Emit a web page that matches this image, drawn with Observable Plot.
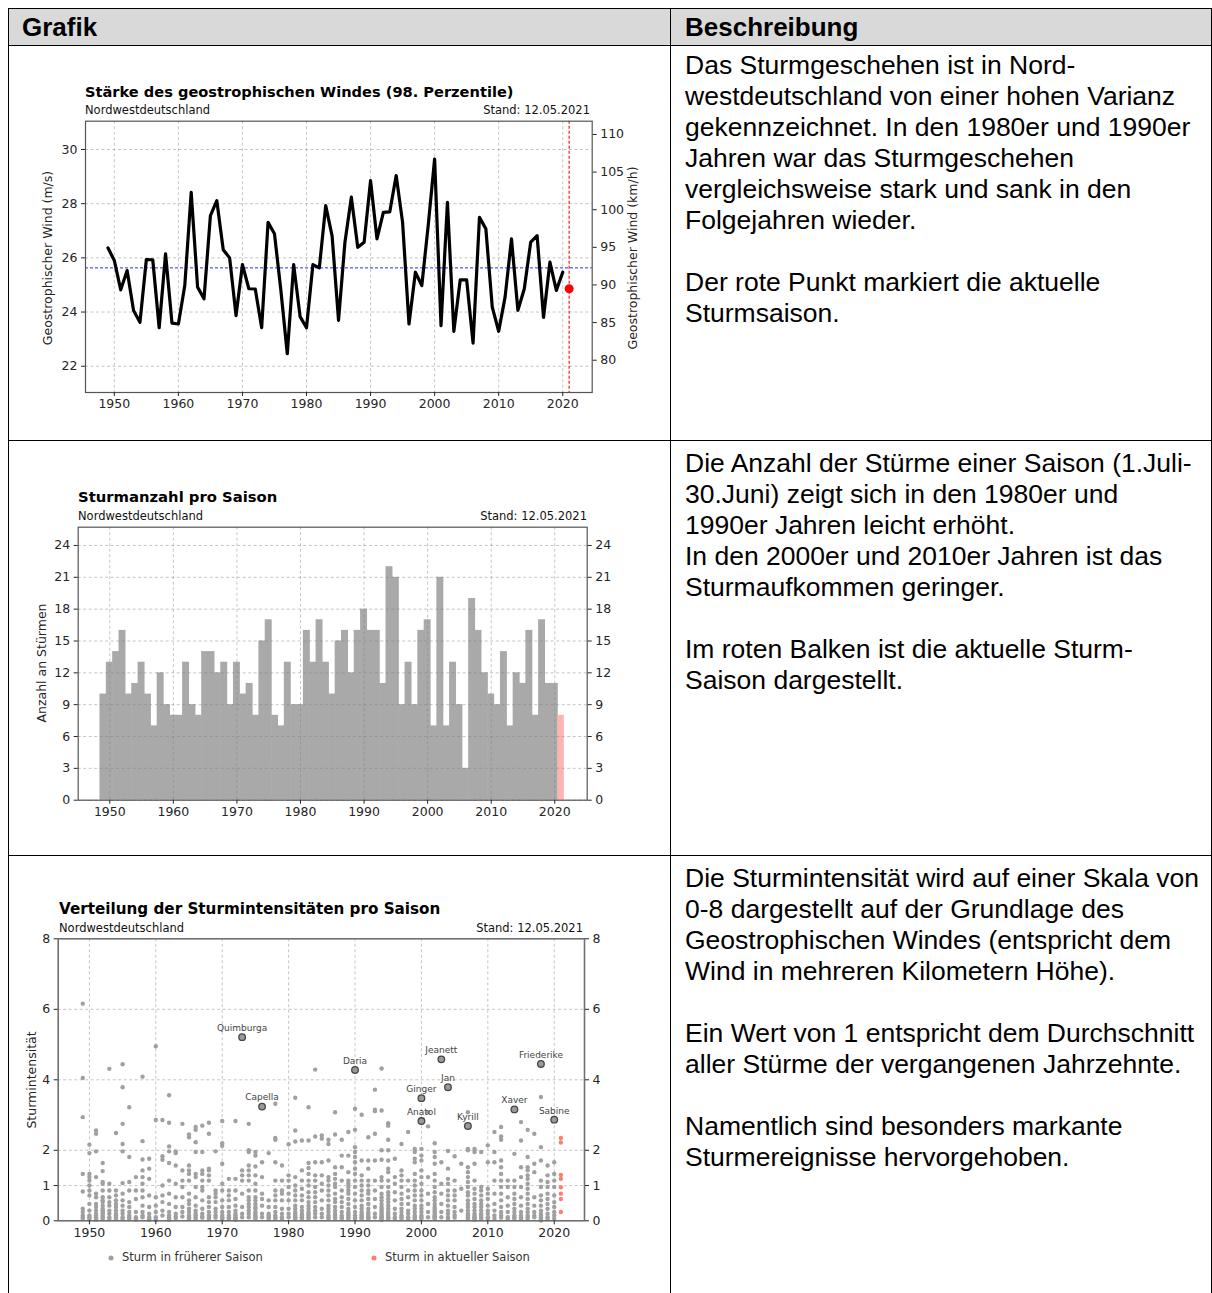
<!DOCTYPE html>
<html><head><meta charset="utf-8">
<script src="https://cdn.jsdelivr.net/npm/d3@7"></script>
<script src="https://cdn.jsdelivr.net/npm/@observablehq/plot@0.6"></script>
<style>
body{margin:0;background:#fff;}
#page{position:relative;width:1212px;height:1293px;overflow:hidden;background:#fff;}
.ln{position:absolute;background:#000;}
.hdr{position:absolute;font-family:"Liberation Sans",Arial,sans-serif;font-weight:bold;font-size:26px;line-height:1;transform:translateY(-50%);}
.desc{position:absolute;left:685px;font-family:"Liberation Sans",Arial,sans-serif;font-size:26.5px;line-height:31px;white-space:nowrap;color:#000;}
.t{position:absolute;font-family:"DejaVu Sans",sans-serif;line-height:1;white-space:nowrap;color:#111;transform:translateY(-50%);}
.title{font-weight:bold;font-size:15px;color:#000;}
.sub{font-size:11.5px;}
.yl{position:absolute;font-family:"DejaVu Sans",sans-serif;font-size:12.5px;line-height:1;white-space:nowrap;color:#222;transform:translate(-50%,-50%) rotate(-90deg);}
.chart{position:absolute;}
.lg{position:absolute;font-family:"DejaVu Sans",sans-serif;font-size:11.5px;line-height:1;white-space:nowrap;color:#333;transform:translateY(-50%);}
.lgdot{position:absolute;width:5px;height:5px;border-radius:50%;transform:translate(-50%,-50%);}
</style></head>
<body><div id="page">
<div class="ln" style="left:8px;top:8px;width:1204px;height:37px;background:#d9d9d9"></div>
<div class="ln" style="left:8px;top:8px;width:1204px;height:1px"></div>
<div class="ln" style="left:8px;top:45px;width:1204px;height:1px"></div>
<div class="ln" style="left:8px;top:440px;width:1204px;height:1px"></div>
<div class="ln" style="left:8px;top:855px;width:1204px;height:1px"></div>
<div class="ln" style="left:8px;top:8px;width:1px;height:1285px"></div>
<div class="ln" style="left:670px;top:8px;width:1px;height:1285px"></div>
<div class="ln" style="left:1211px;top:8px;width:1px;height:1285px"></div>
<div class="hdr" style="left:22px;top:27px">Grafik</div>
<div class="hdr" style="left:685px;top:27px">Beschreibung</div>

<div class="desc" style="top:49.5px">Das Sturmgeschehen ist in Nord-<br>westdeutschland von einer hohen Varianz<br>gekennzeichnet. In den 1980er und 1990er<br>Jahren war das Sturmgeschehen<br>vergleichsweise stark und sank in den<br>Folgejahren wieder.<br><br>Der rote Punkt markiert die aktuelle<br>Sturmsaison.</div>
<div class="desc" style="top:447.5px">Die Anzahl der Stürme einer Saison (1.Juli-<br>30.Juni) zeigt sich in den 1980er und<br>1990er Jahren leicht erhöht.<br>In den 2000er und 2010er Jahren ist das<br>Sturmaufkommen geringer.<br><br>Im roten Balken ist die aktuelle Sturm-<br>Saison dargestellt.</div>
<div class="desc" style="top:862.5px">Die Sturmintensität wird auf einer Skala von<br>0-8 dargestellt auf der Grundlage des<br>Geostrophischen Windes (entspricht dem<br>Wind in mehreren Kilometern Höhe).<br><br>Ein Wert von 1 entspricht dem Durchschnitt<br>aller Stürme der vergangenen Jahrzehnte.<br><br>Namentlich sind besonders markante<br>Sturmereignisse hervorgehoben.</div>

<div class="t title" style="left:85px;top:92px;font-size:14.6px">Stärke des geostrophischen Windes (98. Perzentile)</div>
<div class="t sub" style="left:85px;top:111px">Nordwestdeutschland</div>
<div class="t sub" style="right:622px;top:111px">Stand: 12.05.2021</div>
<div class="yl" style="left:48px;top:258px">Geostrophischer Wind (m/s)</div>
<div class="yl" style="left:633px;top:258px">Geostrophischer Wind (km/h)</div>
<div class="chart" id="c1" style="left:20px;top:115px;width:640px"></div>

<div class="t title" style="left:78px;top:497px;font-size:14.8px">Sturmanzahl pro Saison</div>
<div class="t sub" style="left:78px;top:517px">Nordwestdeutschland</div>
<div class="t sub" style="right:625px;top:517px">Stand: 12.05.2021</div>
<div class="yl" style="left:42px;top:663px">Anzahl an Stürmen</div>
<div class="chart" id="c2" style="left:20px;top:520px;width:620px"></div>

<div class="t title" style="left:59px;top:910px;font-size:15.2px">Verteilung der Sturmintensitäten pro Saison</div>
<div class="t sub" style="left:59px;top:929px">Nordwestdeutschland</div>
<div class="t sub" style="right:629px;top:929px">Stand: 12.05.2021</div>
<div class="yl" style="left:32px;top:1080px">Sturmintensität</div>
<div class="chart" id="c3" style="left:10px;top:932px;width:630px"></div>
<div class="lgdot" style="left:111px;top:1258px;background:#a0a0a0"></div>
<div class="lg" style="left:122px;top:1258px">Sturm in früherer Saison</div>
<div class="lgdot" style="left:374px;top:1258px;background:#fa8072"></div>
<div class="lg" style="left:385px;top:1258px">Sturm in aktueller Saison</div>
</div>
<script>
// ---------- data ----------
const seasonYears = [1949,1950,1951,1952,1953,1954,1955,1956,1957,1958,1959,1960,1961,1962,1963,1964,1965,1966,1967,1968,1969,1970,1971,1972,1973,1974,1975,1976,1977,1978,1979,1980,1981,1982,1983,1984,1985,1986,1987,1988,1989,1990,1991,1992,1993,1994,1995,1996,1997,1998,1999,2000,2001,2002,2003,2004,2005,2006,2007,2008,2009,2010,2011,2012,2013,2014,2015,2016,2017,2018,2019,2020];
const windMs = [26.37,25.9,24.82,25.53,24.06,23.62,25.94,25.93,23.42,26.15,23.59,23.56,24.98,28.42,24.92,24.49,27.56,28.11,26.3,26.0,23.87,25.75,24.86,24.85,23.42,27.31,26.89,24.8,22.46,25.75,23.83,23.42,25.75,25.63,27.93,26.8,23.69,26.58,28.24,26.39,26.58,28.85,26.7,27.68,27.7,29.04,27.31,23.56,25.47,24.98,27.2,29.65,23.5,28.05,23.29,25.19,25.19,22.85,27.5,27.07,24.18,23.29,24.55,26.7,24.06,24.86,26.58,26.82,23.8,25.84,24.8,25.47];
const currentSeason = 2021;
const currentWindMs = 24.86;
const windMeanMs = 25.63;
const windTicksMs = [22,24,26,28,30];
const windTicksKmh = [80,85,90,95,100,105,110];
const decadeTicks = [1950,1960,1970,1980,1990,2000,2010,2020];

const stormCounts = [10,13,14,16,10,11,13,10,7,12,9,8,8,13,9,8,14,14,12,13,9,13,10,11,8,15,17,8,7,13,9,9,16,13,17,13,10,15,16,12,16,18,16,16,11,22,21,9,13,9,16,17,7,21,7,13,9,3,19,16,12,10,9,14,7,12,11,16,8,17,11,11];
const currentCount = 8;
const countTicks = [0,3,6,9,12,15,18,21,24];

// storm intensities per season: [season, values...]
const stormIntensity = [
[1949,6.16,4.05,2.94,1.33,0.83,0.34,0.25,0.15,0.10,0.05],
[1950,2.16,1.92,1.33,1.24,1.14,1.00,0.86,0.72,0.48,0.29,0.15,0.10,0.05],
[1951,2.56,2.47,1.97,1.24,0.77,0.67,0.48,0.39,0.29,0.20,0.15,0.10,0.06,0.03],
[1952,1.64,1.41,1.10,1.05,0.86,0.67,0.58,0.53,0.43,0.34,0.29,0.25,0.20,0.15,0.10,0.05],
[1953,4.31,1.05,0.86,0.67,0.53,0.43,0.29,0.20,0.10,0.05],
[1954,2.49,0.86,0.72,0.58,0.48,0.39,0.29,0.20,0.15,0.10,0.05],
[1955,4.44,3.79,2.75,2.18,1.97,1.07,0.77,0.58,0.43,0.29,0.20,0.10,0.05],
[1956,3.22,1.81,1.10,0.86,0.53,0.39,0.25,0.15,0.10,0.05],
[1957,1.24,0.86,0.62,0.25,0.10,0.06,0.03],
[1958,4.09,2.26,1.74,1.43,1.24,1.05,0.86,0.67,0.43,0.25,0.15,0.10],
[1959,1.76,1.48,1.19,0.72,0.39,0.20,0.10,0.06,0.03],
[1960,4.95,2.86,0.67,0.43,0.25,0.10,0.05,0.02],
[1961,2.86,1.83,1.73,1.00,0.72,0.53,0.29,0.15],
[1962,3.56,2.78,2.11,1.97,1.64,1.14,0.77,0.48,0.25,0.15,0.10,0.06,0.03],
[1963,1.97,1.92,1.57,1.05,0.67,0.39,0.20,0.12,0.08],
[1964,2.75,1.43,1.14,0.96,0.67,0.39,0.25,0.12],
[1965,2.45,2.37,1.57,1.43,1.33,1.14,0.77,0.58,0.48,0.34,0.25,0.15,0.10,0.06],
[1966,2.66,2.58,2.23,1.95,1.33,1.24,0.96,0.67,0.43,0.29,0.20,0.15,0.10,0.06],
[1967,2.70,1.95,1.43,1.33,1.14,0.96,0.86,0.58,0.34,0.20,0.12,0.09],
[1968,2.78,2.47,1.48,1.43,1.29,1.14,0.67,0.53,0.39,0.25,0.15,0.10,0.06],
[1969,1.97,0.86,0.77,0.67,0.53,0.34,0.25,0.15,0.09],
[1970,2.83,2.20,2.13,1.62,1.05,0.86,0.58,0.39,0.25,0.15,0.10,0.09,0.06],
[1971,1.19,0.86,0.72,0.58,0.39,0.25,0.15,0.10,0.09,0.06],
[1972,2.83,1.19,0.86,0.62,0.43,0.29,0.20,0.15,0.10,0.06,0.03],
[1973,1.43,1.29,1.14,0.77,0.39,0.20,0.10],
[1974,2.75,2.00,1.95,1.57,1.43,1.29,1.14,0.86,0.67,0.58,0.48,0.39,0.29,0.20,0.10],
[1975,1.95,1.85,1.54,1.29,1.05,0.86,0.67,0.58,0.48,0.39,0.34,0.25,0.20,0.15,0.10,0.09,0.06],
[1976,1.66,1.24,0.77,0.62,0.43,0.20,0.10],
[1977,1.92,0.58,0.39,0.20,0.15,0.10,0.06],
[1978,3.32,2.35,2.30,1.66,1.14,0.86,0.72,0.58,0.39,0.25,0.15,0.10,0.06],
[1979,1.57,1.14,0.86,0.77,0.58,0.34,0.20,0.10,0.06],
[1980,2.17,1.29,1.14,0.96,0.77,0.58,0.34,0.20,0.10],
[1981,3.49,2.56,2.25,1.24,1.00,0.86,0.72,0.58,0.43,0.34,0.25,0.20,0.15,0.10,0.09,0.06],
[1982,2.28,1.43,1.14,0.91,0.72,0.58,0.39,0.29,0.20,0.15,0.10,0.09,0.06],
[1983,3.22,2.28,1.64,1.50,1.33,1.14,1.00,0.81,0.67,0.53,0.43,0.34,0.25,0.20,0.15,0.10,0.06],
[1984,4.29,2.39,1.66,1.29,1.14,0.96,0.81,0.67,0.53,0.39,0.29,0.20,0.10],
[1985,2.42,2.33,1.66,1.29,1.05,0.86,0.58,0.34,0.20,0.10],
[1986,2.30,2.18,1.71,1.24,1.14,1.00,0.86,0.72,0.58,0.43,0.34,0.25,0.15,0.10,0.06],
[1987,3.08,2.45,1.52,1.33,1.19,1.05,0.96,0.77,0.62,0.53,0.39,0.29,0.20,0.15,0.10,0.06],
[1988,2.30,1.85,1.52,1.14,0.86,0.67,0.53,0.39,0.25,0.15,0.10,0.06],
[1989,2.52,1.85,1.38,1.14,1.05,0.96,0.86,0.77,0.62,0.48,0.34,0.25,0.20,0.15,0.10,0.06],
[1990,3.18,2.58,2.09,1.95,1.81,1.66,1.48,1.33,1.14,0.96,0.77,0.58,0.39,0.25,0.15,0.10,0.06],
[1991,3.01,1.71,1.29,1.14,1.00,0.86,0.72,0.58,0.43,0.34,0.25,0.20,0.15,0.10,0.09,0.06],
[1992,2.37,1.71,1.48,1.14,1.00,0.86,0.77,0.62,0.48,0.34,0.25,0.20,0.15,0.10,0.09,0.06],
[1993,3.72,3.15,3.11,2.47,1.71,1.14,0.86,0.62,0.39,0.20,0.10],
[1994,4.32,3.13,2.00,1.73,1.24,1.14,0.96,0.77,0.67,0.58,0.48,0.39,0.34,0.29,0.25,0.20,0.15,0.12,0.10,0.09,0.06,0.03],
[1995,2.77,2.70,2.30,2.00,1.71,1.48,1.38,1.14,0.96,0.81,0.72,0.62,0.53,0.43,0.34,0.25,0.20,0.15,0.10,0.08,0.05],
[1996,1.76,1.24,1.05,0.81,0.58,0.34,0.20,0.10,0.06],
[1997,2.18,1.43,1.29,1.14,0.96,0.77,0.62,0.48,0.34,0.25,0.15,0.10,0.06],
[1998,2.52,1.14,0.86,0.67,0.48,0.29,0.20,0.10,0.06],
[1999,2.04,1.95,1.76,1.66,1.33,1.14,1.00,0.86,0.72,0.58,0.43,0.34,0.25,0.15,0.10,0.06],
[2000,2.04,1.85,1.71,1.43,1.24,1.05,0.86,0.72,0.58,0.43,0.34,0.25,0.15,0.10,0.06],
[2001,3.08,2.68,1.24,0.77,0.48,0.25,0.10],
[2002,2.20,1.95,1.81,1.62,1.33,1.14,0.96,0.81,0.67,0.58,0.48,0.39,0.34,0.29,0.25,0.20,0.15,0.12,0.10,0.08,0.05],
[2003,1.66,1.05,0.77,0.48,0.25,0.10],
[2004,1.98,1.48,1.19,1.05,0.86,0.72,0.58,0.43,0.29,0.20,0.10,0.06],
[2005,1.83,1.14,0.86,0.72,0.58,0.39,0.25,0.15,0.09],
[2006,1.62,0.91,0.29],
[2007,3.08,2.04,2.00,1.52,1.38,1.24,1.10,0.96,0.81,0.72,0.58,0.48,0.39,0.29,0.20,0.15,0.10,0.06],
[2008,2.04,1.95,1.62,1.14,0.91,0.77,0.62,0.48,0.39,0.29,0.20,0.15,0.10,0.09,0.06,0.03],
[2009,1.95,0.96,0.86,0.72,0.58,0.48,0.39,0.29,0.20,0.15,0.10,0.06],
[2010,2.14,1.66,0.91,0.77,0.62,0.43,0.29,0.20,0.10,0.06],
[2011,2.52,1.95,1.66,1.14,0.77,0.48,0.29,0.15,0.06],
[2012,2.66,2.39,2.30,1.71,1.52,1.33,1.14,0.96,0.77,0.58,0.39,0.25,0.15,0.09],
[2013,1.14,0.96,0.67,0.43,0.25,0.10,0.06],
[2014,1.90,1.14,0.96,0.77,0.62,0.48,0.34,0.25,0.15,0.10,0.06],
[2015,2.80,2.28,1.52,1.24,0.96,0.67,0.43,0.25,0.15,0.10,0.06],
[2016,2.58,1.81,1.52,1.43,1.29,1.19,1.05,0.91,0.77,0.62,0.48,0.34,0.25,0.15,0.10,0.06],
[2017,2.47,1.62,1.38,0.67,0.43,0.25,0.15,0.10],
[2018,3.51,2.09,1.71,1.14,0.96,0.72,0.58,0.43,0.29,0.20,0.15,0.10,0.09,0.06,0.03,0.01],
[2019,1.57,1.29,1.10,0.96,0.77,0.62,0.48,0.34,0.20,0.10,0.06],
[2020,1.66,1.33,1.14,0.96,0.72,0.53,0.39,0.25,0.15,0.06]
];
const currentIntensities = [2.35,2.22,1.30,1.19,0.95,0.77,0.62,0.25];
const namedStorms = ["Quimburga","Capella","Daria","Ginger","Anatol","Jeanett","Jan","Kyrill","Xaver","Friederike","Sabine"];
const namedYears = [1973,1976,1990,2000,2000,2003,2004,2007,2014,2018,2020];
const namedValues = [5.21,3.24,4.28,3.48,2.83,4.58,3.79,2.69,3.16,4.45,2.87];
const intensityTicks = [0,1,2,4,6,8];

// ---------- shared styles ----------
const font = {fontFamily: "DejaVu Sans", fontSize: "12.5px", color: "#262626", background: "transparent", overflow: "visible"};
const gridStyle = {stroke: "#808080", strokeOpacity: 0.5, strokeDasharray: "3,2.5", strokeWidth: 0.9};
const axisCommon = {tickSize: 4, tickPadding: 4, label: null, fontSize: 12.5};

// ---------- chart 1 ----------
const windData = seasonYears.map((y, i) => ({year: y, ms: windMs[i]}));
const c1 = Plot.plot({
  width: 640, height: 320,
  marginLeft: 65, marginRight: 68.3, marginTop: 5.7, marginBottom: 43,
  style: font,
  x: {domain: [1945.5, 2024.6]},
  y: {domain: [21.03, 31.045]},
  marks: [
    Plot.gridX(decadeTicks, gridStyle),
    Plot.gridY(windTicksMs, gridStyle),
    Plot.ruleY([windMeanMs], {stroke: "#2b2bff", strokeDasharray: "3,2", strokeWidth: 1}),
    Plot.ruleX([currentSeason], {stroke: "red", strokeDasharray: "3,2", strokeWidth: 1.1}),
    Plot.line(windData, {x: "year", y: "ms", stroke: "black", strokeWidth: 3.2}),
    Plot.dot([{year: currentSeason, ms: currentWindMs}], {x: "year", y: "ms", r: 4.5, fill: "red", stroke: "none"}),
    Plot.frame({stroke: "#555", strokeWidth: 1.2}),
    Plot.axisX(decadeTicks, {...axisCommon, tickPadding: 3, tickFormat: d => String(d)}),
    Plot.axisY(windTicksMs, {...axisCommon, anchor: "left", tickFormat: d => String(d)}),
    Plot.axisY(windTicksKmh.map(k => k / 3.6), {...axisCommon, anchor: "right", tickFormat: d => String(Math.round(d * 3.6))})
  ]
});
document.getElementById("c1").append(c1);

// ---------- chart 2 ----------
const countData = seasonYears.map((y, i) => ({year: y, n: stormCounts[i]}));
const c2 = Plot.plot({
  width: 620, height: 310,
  marginLeft: 57.7, marginRight: 53.3, marginTop: 6.7, marginBottom: 30.3,
  style: font,
  x: {domain: [1945.03, 2025.1]},
  y: {domain: [0, 25.72]},
  marks: [
    Plot.rect(countData, {x1: d => d.year - 0.5, x2: d => d.year + 0.5, y1: 0, y2: "n", fill: "#a9a9a9", insetLeft: -0.3, insetRight: -0.3}),
    Plot.rect([{year: currentSeason, n: currentCount}], {x1: d => d.year - 0.5, x2: d => d.year + 0.5, y1: 0, y2: "n", fill: "#ffb3b3"}),
    Plot.gridX(decadeTicks, gridStyle),
    Plot.gridY(countTicks, gridStyle),
    Plot.frame({stroke: "#555", strokeWidth: 1.2}),
    Plot.axisX(decadeTicks, {...axisCommon, tickPadding: 3, tickFormat: d => String(d)}),
    Plot.axisY(countTicks, {...axisCommon, anchor: "left", tickFormat: d => String(d)}),
    Plot.axisY(countTicks, {...axisCommon, anchor: "right", tickFormat: d => String(d)})
  ]
});
document.getElementById("c2").append(c2);

// ---------- chart 3 ----------
const pastStorms = stormIntensity.flatMap(([y, ...vals]) => vals.map(v => ({year: y, v})));
const currentStorms = currentIntensities.map(v => ({year: currentSeason, v}));
const named = namedStorms.map((name, i) => ({name, year: namedYears[i], v: namedValues[i]}));
const c3 = Plot.plot({
  width: 630, height: 315,
  marginLeft: 47.7, marginRight: 56, marginTop: 6.3, marginBottom: 26.7,
  style: font,
  x: {domain: [1945.3, 2024.56]},
  y: {domain: [0, 8]},
  marks: [
    Plot.gridX(decadeTicks, gridStyle),
    Plot.gridY([1,2,4,6], gridStyle),
    Plot.dot(pastStorms, {x: "year", y: "v", r: 2.2, fill: "#a0a0a0", stroke: "none"}),
    Plot.dot(currentStorms, {x: "year", y: "v", r: 2.2, fill: "#fa8072", stroke: "none"}),
    Plot.dot(named, {x: "year", y: "v", r: 3.3, fill: "#9a9a9a", stroke: "#454545", strokeWidth: 1.3}),
    Plot.text(named, {x: "year", y: "v", text: "name", dy: -9, fontSize: 9, fill: "#444", fontFamily: "DejaVu Sans"}),
    Plot.frame({stroke: "#707070", strokeWidth: 1.6}),
    Plot.axisX(decadeTicks, {...axisCommon, tickPadding: 3, tickFormat: d => String(d)}),
    Plot.axisY(intensityTicks, {...axisCommon, anchor: "left", tickFormat: d => String(d)}),
    Plot.axisY(intensityTicks, {...axisCommon, anchor: "right", tickFormat: d => String(d)})
  ]
});
document.getElementById("c3").append(c3);
</script>
</body></html>
